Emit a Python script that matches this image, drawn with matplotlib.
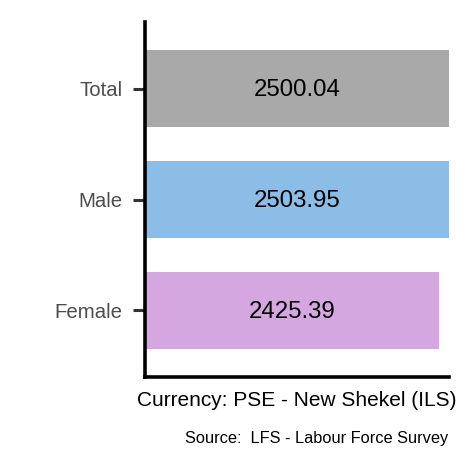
import matplotlib
matplotlib.use("Agg")
import matplotlib.pyplot as plt

categories = ["Female", "Male", "Total"]
values = [2425.39, 2503.95, 2500.04]
colors = ["#D4A7E0", "#8CBDE6", "#A9A9A9"]
labels = ["2425.39", "2503.95", "2500.04"]
xlabel = "Currency: PSE - New Shekel (ILS)"
caption = "Source:  LFS - Labour Force Survey"

plt.rcParams["font.family"] = ["Liberation Sans", "DejaVu Sans"]

W, H = 472, 472
fig = plt.figure(figsize=(W / 100, H / 100), dpi=100)
left, right, top, bottom = 145, 449, 22, 377
ax = fig.add_axes([left / W, 1 - bottom / H, (right - left) / W, (bottom - top) / H])

pos = list(range(len(categories)))
ax.barh(pos, values, height=0.7, color=colors, zorder=1)
for p, v, t in zip(pos, values, labels):
    ax.text(v / 2, p - 0.01, t, ha="center", va="center", fontsize=17.3, color="black")

ax.set_xlim(0, max(values))
ax.set_ylim(-0.6, len(categories) - 0.4)
ax.set_yticks(pos)
ax.set_yticklabels(categories, fontsize=14.7, color="#4D4D4D")
ax.set_xticks([])
ax.tick_params(axis="y", length=8.5, width=2.2, color="#333333", pad=7.5)

for s in ["top", "right"]:
    ax.spines[s].set_visible(False)
for s in ["left", "bottom"]:
    ax.spines[s].set_linewidth(2.6)
    ax.spines[s].set_color("black")
    ax.spines[s].set_zorder(3)

ax.set_xlabel(xlabel, fontsize=15.0, color="black", labelpad=10)
fig.text(448 / W, 1 - 439 / H, caption, ha="right", va="center", fontsize=11.8, color="black")

fig.savefig("out.png", dpi=100, facecolor="white")
